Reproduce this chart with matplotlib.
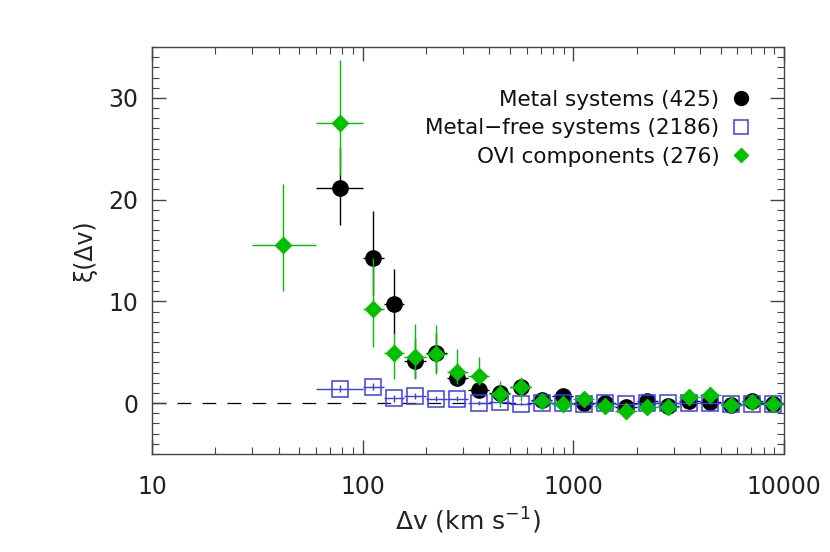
import matplotlib
matplotlib.use("Agg")
import matplotlib.pyplot as plt
from matplotlib.lines import Line2D
from matplotlib.ticker import MultipleLocator, LogLocator, NullFormatter

# ==========================================
# DATA
# ==========================================
# bin centres and bin edges in km/s
bin_v = [78, 112, 141, 178, 224, 282, 355, 447, 562, 708, 891,
         1122, 1413, 1778, 2239, 2818, 3548, 4467, 5623, 7079, 8913]
bin_lo = [60, 100, 126, 158, 200, 251, 316, 398, 501, 631, 794,
          1000, 1259, 1585, 1995, 2512, 3162, 3981, 5012, 6310, 7943]
bin_hi = [100, 126, 158, 200, 251, 316, 398, 501, 631, 794, 1000,
          1259, 1585, 1995, 2512, 3162, 3981, 5012, 6310, 7943, 10000]

# Metal systems (425)
metal_xi = [21.1, 14.3, 9.7, 4.1, 4.9, 2.5, 1.3, 1.0, 1.6, 0.3, 0.7,
            0.0, 0.0, -0.4, 0.2, -0.3, 0.2, 0.1, -0.2, 0.2, -0.1]
metal_elo = [3.6, 3.7, 2.9, 1.6, 1.8, 0.7, 0.6, 0.5, 0.6, 0.4, 0.4,
             0.3, 0.3, 0.3, 0.3, 0.3, 0.3, 0.3, 0.3, 0.3, 0.3]
metal_ehi = [4.1, 4.6, 3.5, 2.3, 2.0, 1.4, 0.7, 0.6, 0.6, 0.4, 0.4,
             0.3, 0.3, 0.3, 0.3, 0.3, 0.3, 0.3, 0.3, 0.3, 0.3]

# Metal-free systems (2186)
free_xi = [1.4, 1.6, 0.46, 0.72, 0.45, 0.45, -0.03, 0.13, -0.05, 0.05, -0.03,
           -0.1, -0.03, -0.1, 0.03, -0.03, 0.03, -0.03, -0.1, -0.1, -0.1]
free_err = [0.35, 0.35, 0.3, 0.3, 0.25, 0.25, 0.2, 0.2, 0.15, 0.15, 0.15,
            0.1, 0.1, 0.1, 0.1, 0.1, 0.1, 0.1, 0.1, 0.1, 0.1]

# OVI components (276), one extra low-velocity bin
ovi_v = [42] + bin_v
ovi_lo = [30] + bin_lo
ovi_hi = [60] + bin_hi
ovi_xi = [15.5, 27.5, 9.3, 4.9, 4.5, 4.8, 3.1, 2.7, 0.9, 1.6, 0.2, -0.1,
          0.4, -0.3, -0.75, -0.35, -0.4, 0.6, 0.8, -0.2, 0.15, -0.1]
ovi_elo = [4.5, 5.1, 3.8, 2.5, 2.1, 1.9, 1.2, 0.9, 1.3, 1.35, 0.5, 0.5,
           0.4, 0.4, 0.4, 0.4, 0.4, 0.4, 0.4, 0.4, 0.4, 0.4]
ovi_ehi = [6.0, 6.2, 5.0, 2.0, 3.3, 2.9, 2.2, 1.8, 1.3, 1.0, 0.5, 0.5,
           0.4, 0.4, 0.4, 0.4, 0.4, 0.4, 0.4, 0.4, 0.4, 0.4]

labels = ["Metal systems (425)", "Metal\u2212free systems (2186)", "OVI components (276)"]

BLACK = "black"
BLUE = "#3c3cf5"
GREEN = "#00c000"


def xerr_of(v, lo, hi):
    return [[c - l for c, l in zip(v, lo)], [h - c for c, h in zip(v, hi)]]


# ==========================================
# FIGURE
# ==========================================
fig = plt.figure(figsize=(8.3, 5.52), dpi=100)
ax = fig.add_axes([0.183, 0.1775, 0.7616, 0.7374])

ax.axhline(0, color="black", lw=0.9, dashes=(11, 9), zorder=1)

ax.errorbar(bin_v, metal_xi, yerr=[metal_elo, metal_ehi],
            xerr=xerr_of(bin_v, bin_lo, bin_hi),
            fmt="o", ms=11, color=BLACK, mec=BLACK, ecolor=BLACK,
            elinewidth=1, capsize=0, zorder=2)

ax.errorbar(bin_v, free_xi, yerr=free_err,
            xerr=xerr_of(bin_v, bin_lo, bin_hi),
            fmt="s", ms=11, mfc="none", mec=BLUE, mew=1.1, ecolor=BLUE,
            elinewidth=1, capsize=0, zorder=3)

ax.errorbar(ovi_v, ovi_xi, yerr=[ovi_elo, ovi_ehi],
            xerr=xerr_of(ovi_v, ovi_lo, ovi_hi),
            fmt="D", ms=8.5, color=GREEN, mec=GREEN, ecolor=GREEN,
            elinewidth=1, capsize=0, zorder=4)

# axes ranges and ticks
ax.set_xscale("log")
ax.set_xlim(10, 10000)
ax.set_ylim(-5, 35)
ax.set_xticks([10, 100, 1000, 10000], labels=["10", "100", "1000", "10000"])
ax.xaxis.set_minor_locator(LogLocator(base=10, subs=range(2, 10)))
ax.xaxis.set_minor_formatter(NullFormatter())
ax.set_yticks([0, 10, 20, 30])
ax.yaxis.set_minor_locator(MultipleLocator(1))

for sp in ax.spines.values():
    sp.set_color("#444444")
    sp.set_linewidth(1)
ax.tick_params(which="both", direction="in", top=True, right=True,
               color="#444444", labelsize=17, labelcolor="#222222")
ax.tick_params(which="major", length=10, width=1)
ax.tick_params(axis="x", which="major", pad=15)
ax.tick_params(axis="y", which="major", pad=10)
ax.tick_params(which="minor", length=5, width=0.8)

ax.set_xlabel("\u0394v (km s$^{-1}$)", fontsize=18, color="#222222", labelpad=5)
ax.set_ylabel("\u03be(\u0394v)", fontsize=17, color="#222222", labelpad=8)

# legend: text on the left, marker on the right
handles = [
    Line2D([], [], ls="none", marker="o", ms=10, color=BLACK),
    Line2D([], [], ls="none", marker="s", ms=10, mfc="none", mec=BLUE, mew=1.1),
    Line2D([], [], ls="none", marker="D", ms=7, color=GREEN),
]
ax.legend(handles, labels, loc="upper right", bbox_to_anchor=(0.947, 0.895),
          frameon=False, markerfirst=False, fontsize=15.5, handlelength=0.9,
          handletextpad=0.55, labelspacing=0.39, borderpad=0, borderaxespad=0,
          labelcolor="#111111")

fig.savefig("out.png", dpi=100)
